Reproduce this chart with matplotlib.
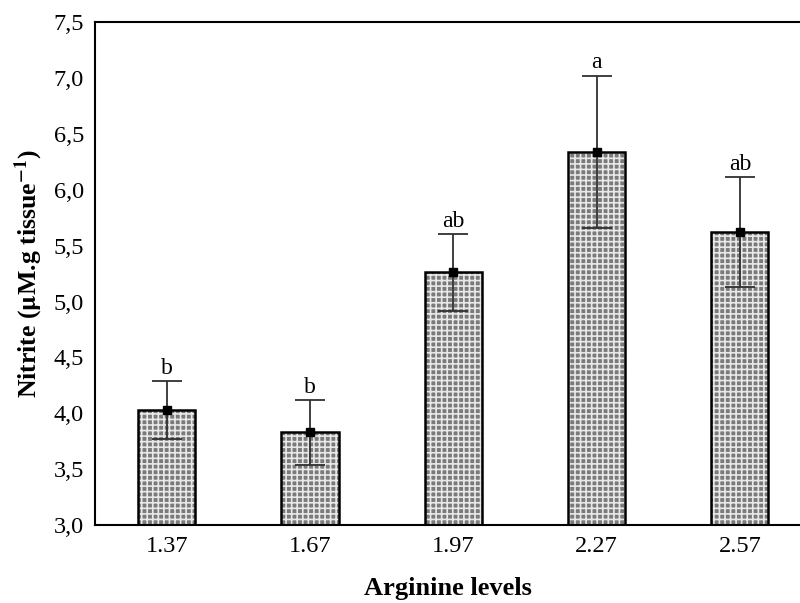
import numpy as np
import matplotlib.pyplot as plt
from matplotlib.ticker import FuncFormatter

# data
levels = ['1.37', '1.67', '1.97', '2.27', '2.57']
nitrite = [4.03, 3.83, 5.26, 6.34, 5.62]
err = [0.26, 0.29, 0.34, 0.68, 0.49]
letters = ['b', 'b', 'ab', 'a', 'ab']

plt.rcParams['font.family'] = ['Liberation Serif', 'DejaVu Serif']
plt.rcParams['mathtext.fontset'] = 'stix'
plt.rcParams['hatch.linewidth'] = 1.2

fig = plt.figure(figsize=(8, 6.03), dpi=100)
ax = fig.add_axes([0.119, 0.129, 0.881, 0.8345])

x = np.arange(len(levels))
w = 0.4
# patterned fill, then black outline on top
ax.bar(x, [v - 3.0 for v in nitrite], w, bottom=3.0, color='#7a7a7a',
       edgecolor='#e8e8e8', hatch='+++', linewidth=0, zorder=2)
ax.bar(x, [v - 3.0 for v in nitrite], w, bottom=3.0, fill=False,
       edgecolor='black', linewidth=1.8, zorder=3)

ax.errorbar(x, nitrite, yerr=err, fmt='s', color='black', ms=6,
            ecolor='#303030', elinewidth=1.3, capsize=10.5, capthick=1.3, zorder=4)

for xi, v, e, lab in zip(x, nitrite, err, letters):
    ax.text(xi, v + e + 0.02, lab, ha='center', va='bottom', fontsize=17)

ax.set_xlim(-0.5, 4.42)
ax.set_ylim(3.0, 7.5)
ax.set_yticks(np.arange(3.0, 7.51, 0.5))
ax.yaxis.set_major_formatter(FuncFormatter(lambda v, p: f'{v:.1f}'.replace('.', ',')))
ax.set_xticks(x)
ax.set_xticklabels(levels)
ax.tick_params(length=0, labelsize=17.5, pad=8)

for s in ['left', 'top', 'bottom']:
    ax.spines[s].set_linewidth(1.5)
ax.spines['right'].set_visible(False)

ax.set_xlabel('Arginine levels', fontsize=19, fontweight='bold', labelpad=14)
ax.set_ylabel(r'Nitrite ($\mathbf{\mu}$M.g tissue$^{\mathbf{-1}}$)', fontsize=18.5,
              fontweight='bold', labelpad=6)

fig.savefig('out.png')
